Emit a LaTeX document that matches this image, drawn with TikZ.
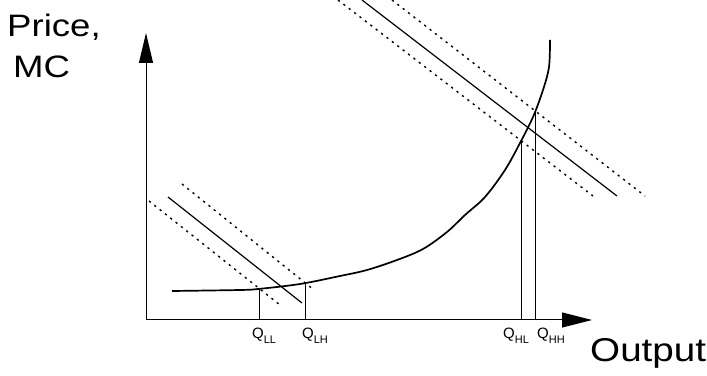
\documentclass[tikz,border=0pt]{standalone}
\usepackage{fontspec}
\setmainfont{Liberation Sans}
\usetikzlibrary{arrows.meta, intersections}

\newcommand{\qsub}[1]{Q\raisebox{-4.5pt}{\fontsize{11}{11}\selectfont #1}}

\begin{document}
\begin{tikzpicture}[
  x=1pt, y=1pt,
  axis/.style={line width=1pt, -{Triangle[length=30pt, width=14pt]}},
  mc/.style={line width=1.7pt},
  demand/.style={line width=1.2pt},
  shifted/.style={line width=1.4pt, dash pattern=on 2.2pt off 4.6pt},
  drop/.style={line width=1.2pt},
  axlabel/.style={font=\fontsize{31}{31}\selectfont, inner sep=0pt, anchor=base west},
  qlabel/.style={font=\fontsize{15}{15}\selectfont, inner sep=0pt, anchor=base west}
]
  \useasboundingbox (0,0) rectangle (707,375);

  % Achsen
  \coordinate (origin) at (146,55);
  \coordinate (ytip) at (146,342);
  \coordinate (xtip) at (592,55);
  \draw[axis] (origin) -- (ytip);
  \draw[axis, -{Triangle[length=30pt, width=15pt]}] (origin) -- (xtip);

  % Grenzkostenkurve
  \draw[mc, name path=mccurve] plot[smooth, tension=0.55] coordinates {
    (172,84) (240,85) (258,86) (300,91) (340,99) (367,105) (397,115)
    (423,126) (447,143) (465,160) (485,178) (505,205) (520,232)
    (533,258) (543,285) (549,308) (550,335)};

  % Nachfrage, niedrig
  \draw[demand] (168,178) -- (302,72);
  \draw[shifted, name path=lowup] (182,191) -- (314,85);
  \draw[shifted, name path=lowdn] (149,174) -- (280,70);

  % Nachfrage, hoch
  \draw[demand] (362,375) -- (617,179);
  \draw[shifted, name path=highup] (392,375) -- (645,179);
  \draw[shifted, name path=highdn] (338,375) -- (593,179);

  % Schnittpunkte und Lote
  \path[name intersections={of=mccurve and lowdn, by=ll}];
  \path[name intersections={of=mccurve and lowup, by=lh}];
  \path[name intersections={of=mccurve and highdn, by=hl}];
  \path[name intersections={of=mccurve and highup, by=hh}];
  \draw[drop] (ll) -- (ll |- origin);
  \draw[drop] (lh) -- (lh |- origin);
  \draw[drop] (hl) -- (hl |- origin);
  \draw[drop] (hh) -- (hh |- origin);

  % Beschriftung
  \node[axlabel, xscale=1.18] (price) at (7,338) {Price,};
  \node[axlabel, xscale=1.18] (mclab) at (13,297) {MC};
  \node[axlabel, font=\fontsize{33}{33}\selectfont, xscale=1.17] (output) at (590,13) {Output};
  \node[qlabel] (qll) at (252,36) {\qsub{LL}};
  \node[qlabel] (qlh) at (302,36) {\qsub{LH}};
  \node[qlabel] (qhl) at (503,36) {\qsub{HL}};
  \node[qlabel] (qhh) at (537,36) {\qsub{HH}};
\end{tikzpicture}
\end{document}
